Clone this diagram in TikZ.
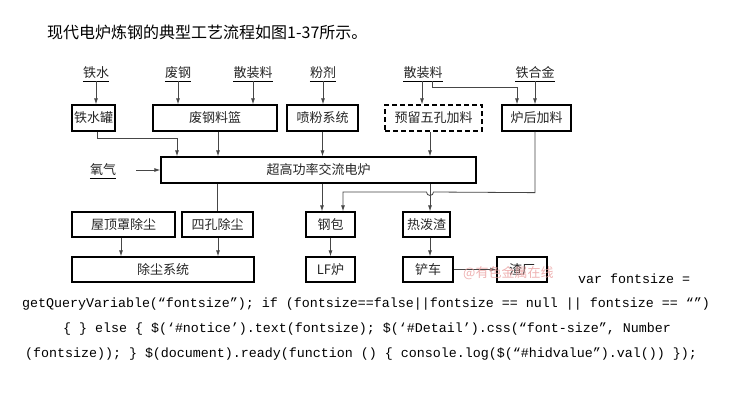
\documentclass[tikz,border=0pt]{standalone}
\usepackage{fontspec}
\setmainfont{Noto Sans CJK SC}
\setmonofont{Liberation Mono}
\newfontfamily\cjk{Noto Sans CJK SC}
\usetikzlibrary{arrows.meta}
\definecolor{linegray}{RGB}{70,70,70}
\definecolor{wmpink}{RGB}{235,160,160}
\tikzset{
  x=1pt,y=-1pt,
  box/.style={draw=black,line width=1.3pt,minimum height=26pt,inner sep=0pt,
    font=\cjk\fontsize{13}{13}\selectfont,text height=11pt,text depth=1.5pt,text=black!85},
  dbox/.style={box,dashed,dash pattern=on 5pt off 3pt},
  lab/.style={inner xsep=0pt,inner ysep=1.5pt,font=\cjk\fontsize{13}{13}\selectfont,
    text height=11pt,text depth=1.5pt,text=black!85},
  conn/.style={draw=linegray,line width=0.8pt},
  arr/.style={conn,-{Latex[length=6pt,width=4pt]}},
  mono/.style={inner sep=0pt,font=\ttfamily\fontsize{13.33}{13.33}\selectfont,text=black,anchor=base},
}
\begin{document}
\begin{tikzpicture}
\useasboundingbox[fill=white] (0,0) rectangle (730,404);
% title
\node[anchor=west,inner sep=0pt,font=\cjk\fontsize{16}{16}\selectfont] (title) at (47,32) {现代电炉炼钢的典型工艺流程如图1-37所示。};
% top labels
\node[lab] (tieshui) at (96,73) {铁水};
\node[lab] (feigang) at (178,73) {废钢};
\node[lab] (sanzhuangA) at (253,73) {散装料};
\node[lab] (fenji) at (323,73) {粉剂};
\node[lab] (sanzhuangB) at (423,73) {散装料};
\node[lab] (tiehejin) at (535,73) {铁合金};
\node[lab] (yangqi) at (103,170) {氧气};
\foreach \n in {tieshui,feigang,sanzhuangA,fenji,sanzhuangB,tiehejin,yangqi}
  \draw[conn,draw=black] (\n.south west) -- (\n.south east);
% row 1
\node[box,minimum width=43pt] (tsg) at (93.5,118) {铁水罐};
\node[box,minimum width=124pt] (fgl) at (215,118) {废钢料篮};
\node[box,minimum width=71pt] (pf) at (322.5,118) {喷粉系统};
\node[dbox,minimum width=97pt] (yl) at (433.5,118) {预留五孔加料};
\node[box,minimum width=69pt] (lh) at (536.5,118) {炉后加料};
% furnace
\node[box,minimum width=315pt] (fur) at (318.5,170) {超高功率交流电炉};
% row 2
\node[box,minimum width=103pt,minimum height=25pt] (wd) at (123.5,224.5) {屋顶罩除尘};
\node[box,minimum width=71pt,minimum height=25pt] (sk) at (217.5,224.5) {四孔除尘};
\node[box,minimum width=49pt,minimum height=25pt] (gb) at (330.5,224.5) {钢包};
\node[box,minimum width=47pt,minimum height=25pt] (rpz) at (426.5,224.5) {热泼渣};
% row 3
\node[box,minimum width=182pt,minimum height=25pt] (ccxt) at (163,269.5) {除尘系统};
\node[box,minimum width=49pt,minimum height=25pt] (lf) at (330.5,269.5) {LF炉};
\node[box,minimum width=50pt,minimum height=25pt] (cc) at (428,269.5) {铲车};
\node[box,minimum width=50pt,minimum height=25pt] (zc) at (522,269.5) {渣厂};
% label arrows
\draw[arr] (tieshui.south) -- (tieshui.south |- tsg.north);
\draw[arr] (feigang.south) -- (feigang.south |- fgl.north);
\draw[arr] (sanzhuangA.south) -- (sanzhuangA.south |- fgl.north);
\draw[arr] (fenji.south) -- (fenji.south |- pf.north);
\draw[arr] ([xshift=-1pt]sanzhuangB.south) -- ([xshift=-1pt]sanzhuangB.south |- yl.north);
\coordinate (sbR) at ([xshift=9pt]sanzhuangB.south);
\draw[arr] (sbR) -- ++(0,6) -| ([xshift=-19.5pt]lh.north);
\draw[arr] (tiehejin.south) -- (tiehejin.south |- lh.north);
\draw[arr] (yangqi.east) ++(20,0) coordinate (oxs) -- (oxs -| fur.west);
% into furnace
\coordinate (tsgb) at ([xshift=3.5pt]tsg.south);
\draw[arr] (tsgb) -- ++(0,7) -| ([xshift=-141.5pt]fur.north);
\draw[arr] ([xshift=3pt]fgl.south) -- ([xshift=3pt]fgl.south |- fur.north);
\draw[arr] (pf.south) -- (pf.south |- fur.north);
\draw[arr] ([xshift=-3.5pt]yl.south) -- ([xshift=-3.5pt]yl.south |- fur.north);
% out of furnace
\coordinate (fsk) at (sk.north |- fur.south);
\draw[conn] (fsk) -- (sk.north);
\coordinate (fgb) at ([xshift=-8.5pt]gb.north |- fur.south);
\draw[arr] (fgb) -- ([xshift=-8.5pt]gb.north);
\coordinate (frp) at ([xshift=3.5pt]rpz.north |- fur.south);
\draw[arr] (frp) -- ([xshift=3.5pt]rpz.north);
% return line from 炉后加料 with hop
\coordinate (lhb) at ([xshift=-1.5pt]lh.south);
\draw[arr] (lhb) -- ++(0,61) -- (433.5,192) arc[start angle=0,end angle=180,radius=3.5] -- (343,192) -- ([xshift=12.5pt]gb.north);
% lower arrows
\draw[arr] ([xshift=-2.5pt]wd.south) -- ([xshift=-2.5pt]wd.south |- ccxt.north);
\draw[arr] ([xshift=0.5pt]sk.south) -- ([xshift=0.5pt]sk.south |- ccxt.north);
\draw[arr] (gb.south) -- (lf.north);
\draw[arr] ([xshift=3.5pt]rpz.south) -- ([xshift=2pt]cc.north);
\draw[arr] (cc.east) -- (zc.west);
% watermark
\node[anchor=west,inner sep=0pt,font=\cjk\fontsize{13}{13}\selectfont,text=wmpink,opacity=0.8] (wm) at (463,273) {@有色金属在线};
% script text
\node[mono,anchor=base west] (js1) at (578,283) {var fontsize =};
\node[mono] (js2) at (366,307) {getQueryVariable(“fontsize”); if (fontsize==false||fontsize == null || fontsize == “”)};
\node[mono] (js3) at (367,332) {\{ \} else \{ \$(‘\#notice’).text(fontsize); \$(‘\#Detail’).css(“font-size”, Number};
\node[mono] (js4) at (361,357) {(fontsize)); \} \$(document).ready(function () \{ console.log(\$(“\#hidvalue”).val()) \});};
\end{tikzpicture}
\end{document}
